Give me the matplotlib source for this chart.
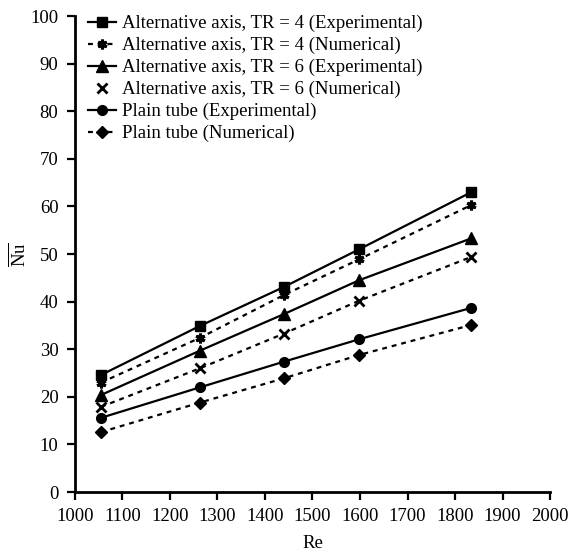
import matplotlib
matplotlib.use("Agg")
import matplotlib.pyplot as plt
from matplotlib.lines import Line2D

plt.rcParams['font.family'] = ['Liberation Serif', 'DejaVu Serif']
plt.rcParams['mathtext.fontset'] = 'custom'
plt.rcParams['mathtext.rm'] = 'Liberation Serif'

re = [1055, 1263, 1440, 1598, 1834]
tr4_exp = [24.6, 34.9, 43.1, 51.0, 63.0]
tr4_num = [23.0, 32.4, 41.4, 48.9, 60.3]
tr6_exp = [20.4, 29.7, 37.4, 44.5, 53.3]
tr6_num = [17.9, 26.0, 33.3, 40.2, 49.4]
plain_exp = [15.6, 22.0, 27.4, 32.1, 38.7]
plain_num = [12.6, 18.8, 23.9, 28.8, 35.1]

labels = ["Alternative axis, TR = 4 (Experimental)",
          "Alternative axis, TR = 4 (Numerical)",
          "Alternative axis, TR = 6 (Experimental)",
          "Alternative axis, TR = 6 (Numerical)",
          "Plain tube (Experimental)",
          "Plain tube (Numerical)"]
xticks = list(range(1000, 2001, 100))
yticks = list(range(0, 101, 10))

fig = plt.figure(figsize=(5.76, 5.56), dpi=100)
ax = fig.add_axes([0.130, 0.115, 0.825, 0.856])

lw = 1.6
dash = (0, (2.2, 2.2))
series = [
    (tr4_exp, dict(marker='s', linestyle='-', ms=7)),
    (tr4_num, dict(marker=(6, 2, 0), linestyle=dash, ms=7, mew=2.2)),
    (tr6_exp, dict(marker='^', linestyle='-', ms=8)),
    (tr6_num, dict(marker='x', linestyle=dash, ms=6.5, mew=2.0)),
    (plain_exp, dict(marker='o', linestyle='-', ms=7)),
    (plain_num, dict(marker='D', linestyle=dash, ms=6)),
]
handles = []
for i, (vals, kw) in enumerate(series):
    ax.plot(re, vals, color='black', lw=lw, mfc='black', mec='black', **kw)
    hkw = dict(kw)
    if i == 3:
        hkw['linestyle'] = 'none'
    handles.append(Line2D([], [], color='black', lw=lw, mfc='black', mec='black', **hkw))

fs = 13.5
ax.set_xlim(1000, 2000)
ax.set_ylim(0, 100)
ax.set_xticks(xticks)
ax.set_yticks(yticks)
ax.tick_params(direction='out', length=5.8, width=1.6, labelsize=fs, pad=6)
for s in ['top', 'right']:
    ax.spines[s].set_visible(False)
for s in ['left', 'bottom']:
    ax.spines[s].set_linewidth(2)
ax.set_xlabel('Re', fontsize=fs, labelpad=7)
ax.set_ylabel(r'$\overline{\mathrm{Nu}}$', fontsize=fs, labelpad=1)

ax.legend(handles, labels, loc='upper left', bbox_to_anchor=(0.0, 1.03), frameon=False,
          fontsize=fs, handlelength=1.5, handletextpad=0.3, labelspacing=0.25,
          borderaxespad=0.3)

fig.savefig('out.png', dpi=100)
